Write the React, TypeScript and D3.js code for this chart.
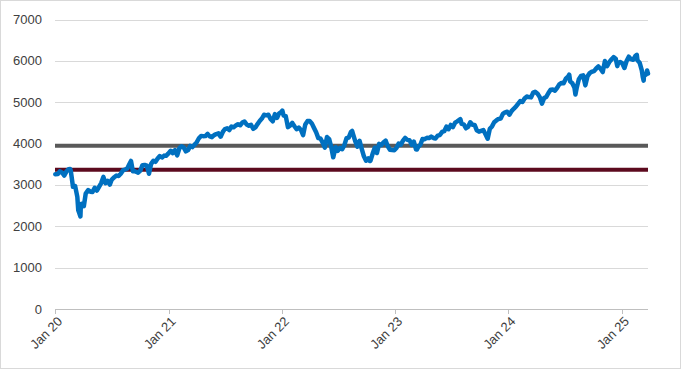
import React from 'react'
import * as d3 from 'd3'

// index closes, [month-day, value], one small list per year
const y2020: [string, number][] = [
    ["01-02", 3258], ["01-10", 3265], ["01-17", 3330], ["01-24", 3295], ["01-31", 3226],
    ["02-07", 3328], ["02-14", 3380], ["02-19", 3386], ["02-21", 3338], ["02-28", 2954],
    ["03-06", 2972], ["03-13", 2711], ["03-16", 2386], ["03-20", 2305], ["03-23", 2237],
    ["03-24", 2447], ["03-27", 2541], ["04-03", 2489], ["04-09", 2790], ["04-17", 2875],
    ["04-24", 2837], ["05-01", 2831], ["05-08", 2930], ["05-15", 2864], ["05-22", 2955],
    ["05-29", 3044], ["06-05", 3194], ["06-12", 3041], ["06-19", 3098], ["06-26", 3009],
    ["07-02", 3130], ["07-10", 3185], ["07-17", 3225], ["07-24", 3216], ["07-31", 3271],
    ["08-07", 3351], ["08-14", 3373], ["08-21", 3397], ["08-28", 3508], ["09-02", 3580],
    ["09-08", 3332], ["09-11", 3341], ["09-18", 3319], ["09-25", 3298], ["10-02", 3348],
    ["10-09", 3477], ["10-16", 3484], ["10-23", 3465], ["10-30", 3270], ["11-06", 3510],
    ["11-13", 3585], ["11-20", 3558], ["11-27", 3638], ["12-04", 3699], ["12-11", 3663],
    ["12-18", 3709], ["12-24", 3703], ["12-31", 3756],
]
const y2021: [string, number][] = [
    ["01-08", 3825], ["01-15", 3768], ["01-22", 3841], ["01-29", 3714], ["02-05", 3887],
    ["02-12", 3934], ["02-19", 3907], ["02-26", 3811], ["03-05", 3842], ["03-12", 3943],
    ["03-19", 3913], ["03-26", 3975], ["04-01", 4020], ["04-09", 4129], ["04-16", 4185],
    ["04-23", 4180], ["04-30", 4181], ["05-07", 4233], ["05-14", 4174], ["05-21", 4156],
    ["05-28", 4204], ["06-04", 4230], ["06-11", 4247], ["06-18", 4166], ["06-25", 4281],
    ["07-02", 4352], ["07-09", 4370], ["07-16", 4327], ["07-23", 4412], ["07-30", 4395],
    ["08-06", 4437], ["08-13", 4468], ["08-20", 4442], ["08-27", 4509], ["09-03", 4535],
    ["09-10", 4459], ["09-17", 4433], ["09-24", 4455], ["10-01", 4357], ["10-08", 4391],
    ["10-15", 4471], ["10-22", 4545], ["10-29", 4605], ["11-05", 4697], ["11-12", 4683],
    ["11-19", 4698], ["11-26", 4595], ["12-03", 4538], ["12-10", 4712], ["12-17", 4621],
    ["12-23", 4726], ["12-31", 4766],
]
const y2022: [string, number][] = [
    ["01-03", 4797], ["01-07", 4677], ["01-14", 4663], ["01-21", 4398], ["01-28", 4432],
    ["02-04", 4500], ["02-11", 4419], ["02-18", 4349], ["02-25", 4385], ["03-04", 4329],
    ["03-11", 4204], ["03-18", 4463], ["03-25", 4543], ["04-01", 4546], ["04-08", 4488],
    ["04-14", 4393], ["04-22", 4272], ["04-29", 4132], ["05-06", 4123], ["05-13", 4024],
    ["05-20", 3901], ["05-27", 4158], ["06-03", 4109], ["06-10", 3901], ["06-16", 3667],
    ["06-24", 3912], ["07-01", 3825], ["07-08", 3899], ["07-15", 3863], ["07-22", 3962],
    ["07-29", 4130], ["08-05", 4145], ["08-12", 4280], ["08-16", 4305], ["08-19", 4228],
    ["08-26", 4058], ["09-02", 3924], ["09-09", 4067], ["09-16", 3873], ["09-23", 3693],
    ["09-30", 3586], ["10-07", 3640], ["10-12", 3577], ["10-14", 3583], ["10-21", 3752],
    ["10-28", 3901], ["11-04", 3771], ["11-11", 3993], ["11-18", 3965], ["11-25", 4026],
    ["12-02", 4072], ["12-09", 3934], ["12-16", 3852], ["12-23", 3845], ["12-30", 3840],
]
const y2023: [string, number][] = [
    ["01-06", 3895], ["01-13", 3999], ["01-20", 3973], ["01-27", 4071], ["02-03", 4136],
    ["02-10", 4090], ["02-17", 4079], ["02-24", 3970], ["03-03", 4046], ["03-10", 3862],
    ["03-13", 3855], ["03-17", 3917], ["03-24", 3971], ["03-31", 4109], ["04-06", 4105],
    ["04-14", 4138], ["04-21", 4133], ["04-28", 4169], ["05-05", 4136], ["05-12", 4124],
    ["05-19", 4192], ["05-26", 4205], ["06-02", 4282], ["06-09", 4299], ["06-16", 4410],
    ["06-23", 4348], ["06-30", 4450], ["07-07", 4399], ["07-14", 4505], ["07-21", 4536],
    ["07-31", 4589], ["08-04", 4478], ["08-11", 4464], ["08-18", 4370], ["08-25", 4406],
    ["09-01", 4516], ["09-08", 4457], ["09-15", 4450], ["09-22", 4320], ["09-29", 4288],
    ["10-06", 4308], ["10-13", 4327], ["10-20", 4224], ["10-27", 4117], ["11-03", 4358],
    ["11-10", 4415], ["11-17", 4514], ["11-24", 4559], ["12-01", 4595], ["12-08", 4604],
    ["12-15", 4719], ["12-22", 4755], ["12-29", 4770],
]
const y2024: [string, number][] = [
    ["01-05", 4697], ["01-12", 4784], ["01-19", 4840], ["01-26", 4891], ["02-02", 4959],
    ["02-09", 5027], ["02-16", 5006], ["02-23", 5089], ["03-01", 5137], ["03-08", 5124],
    ["03-15", 5117], ["03-22", 5234], ["03-28", 5254], ["04-05", 5204], ["04-12", 5123],
    ["04-19", 4967], ["04-26", 5100], ["05-03", 5128], ["05-10", 5223], ["05-17", 5303],
    ["05-24", 5305], ["05-31", 5278], ["06-07", 5347], ["06-14", 5432], ["06-21", 5465],
    ["06-28", 5460], ["07-05", 5567], ["07-12", 5615], ["07-16", 5667], ["07-19", 5505],
    ["07-26", 5459], ["08-02", 5346], ["08-05", 5186], ["08-09", 5344], ["08-16", 5554],
    ["08-23", 5634], ["08-30", 5648], ["09-06", 5408], ["09-13", 5626], ["09-20", 5703],
    ["09-27", 5738], ["10-04", 5751], ["10-11", 5815], ["10-18", 5864], ["10-25", 5808],
    ["11-01", 5729], ["11-08", 5995], ["11-15", 5870], ["11-22", 5969], ["11-29", 6032],
    ["12-06", 6090], ["12-13", 6051], ["12-18", 5872], ["12-20", 5931], ["12-27", 5971],
]
const y2025: [string, number][] = [
    ["01-03", 5942], ["01-10", 5827], ["01-17", 5997], ["01-24", 6101], ["01-31", 6041],
    ["02-07", 6026], ["02-14", 6115], ["02-19", 6144], ["02-21", 6013], ["02-28", 5955],
    ["03-07", 5770], ["03-10", 5615], ["03-13", 5521], ["03-14", 5639], ["03-21", 5668],
    ["03-24", 5767], ["03-27", 5693],
]

// the two flat reference levels
const greyLevel = 3950
const redLevel = 3365

const yTicks = [0, 1000, 2000, 3000, 4000, 5000, 6000, 7000]
const xTickLabels = ["Jan 20", "Jan 21", "Jan 22", "Jan 23", "Jan 24", "Jan 25"]

const parse = d3.timeParse("%Y-%m-%d")

const App = () => {
    const width = 681, height = 369
    const left = 55, right = 648, top = 19.5, bottom = 309

    const years: [number, [string, number][]][] = [
        [2020, y2020], [2021, y2021], [2022, y2022], [2023, y2023], [2024, y2024], [2025, y2025],
    ]
    const data = years
        .flatMap(([yr, rows]) => rows.map(([md, v]) => ({ date: parse(`${yr}-${md}`) as Date, value: v })))
        .sort((a, b) => +a.date - +b.date)

    const x = d3.scaleTime()
        .domain([new Date(2020, 0, 1), data[data.length - 1].date])
        .range([left, right])
    const y = d3.scaleLinear().domain([0, 7000]).range([bottom, top])

    const line = d3.line<{ date: Date, value: number }>()
        .x(d => x(d.date))
        .y(d => y(d.value))

    const tickDates = xTickLabels.map((_, i) => new Date(2020 + i, 0, 1))
    const font = "'Liberation Sans', Arial, sans-serif"

    return (
        <svg width={width} height={height} style={{ position: 'absolute', left: 0, top: 0, background: '#fff' }}>
            <rect x={0.5} y={0.5} width={width - 1} height={height - 1} fill="#fff" stroke="#d9d9d9" />
            {/* gridlines + y labels */}
            {yTicks.filter(t => t > 0).map(t => (
                <line key={t} x1={left} x2={right} y1={Math.round(y(t)) + 0.5} y2={Math.round(y(t)) + 0.5}
                    stroke="#d9d9d9" strokeWidth={1} />
            ))}
            {yTicks.map(t => (
                <text key={'l' + t} x={42} y={y(t)} dy="0.35em" textAnchor="end"
                    fontFamily={font} fontSize={13} fill="#404040">{t}</text>
            ))}
            {/* x axis */}
            <line x1={left} x2={right} y1={Math.round(bottom) + 0.5} y2={Math.round(bottom) + 0.5} stroke="#bfbfbf" />
            {tickDates.map((d, i) => (
                <g key={i}>
                    <line x1={Math.round(x(d)) + 0.5} x2={Math.round(x(d)) + 0.5} y1={bottom} y2={bottom + 5} stroke="#bfbfbf" />
                    <text transform={`translate(${x(d) + 5},${bottom + 10}) rotate(-45)`} textAnchor="end" dy="0.35em"
                        fontFamily={font} fontSize={13} fill="#404040">{xTickLabels[i]}</text>
                </g>
            ))}
            {/* reference levels */}
            <line x1={left} x2={right} y1={y(greyLevel)} y2={y(greyLevel)} stroke="#595959" strokeWidth={4} />
            <line x1={left} x2={right} y1={y(redLevel)} y2={y(redLevel)} stroke="#5c0a1e" strokeWidth={4} />
            {/* index */}
            <path d={line(data) || ''} fill="none" stroke="#0070c0" strokeWidth={4.5}
                strokeLinejoin="round" strokeLinecap="round" />
        </svg>
    )
}

export default App
